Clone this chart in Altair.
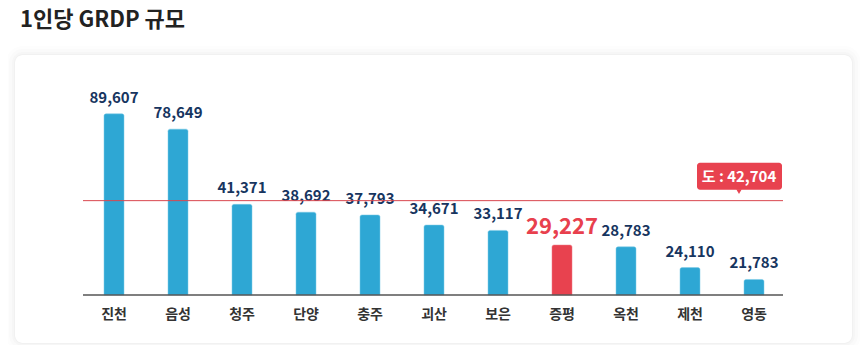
import altair as alt
import pandas as pd

# ---- data ----
regions = ["진천", "음성", "청주", "단양", "충주", "괴산", "보은", "증평", "옥천", "제천", "영동"]
values = [89607, 78649, 41371, 38692, 37793, 34671, 33117, 29227, 28783, 24110, 21783]
highlight = "증평"
province_avg = 42704
avg_label = "도 : 42,704"
title_text = "1인당 GRDP 규모"

FONT = "Noto Sans CJK KR"
D_MIN, D_MAX = 19080, 100000
W, H = 704, 194

df = pd.DataFrame({"region": regions, "value": values})
df["label"] = df["value"].map(lambda v: f"{v:,}")
df["hl"] = df["region"] == highlight

one = pd.DataFrame({"a": [0]})

x_enc = alt.X("region:N", sort=regions, title=None,
              axis=alt.Axis(labelAngle=0, labelFontSize=14, labelFontWeight="bold",
                            labelColor="#333333", labelFont=FONT, labelPadding=12,
                            ticks=False, domain=False, zindex=2))
y_scale = alt.Scale(type="log", domain=[D_MIN, D_MAX], nice=False)

# card with soft shadow (decoration)
card_layers = []
for grow, col in [(9, "#fdfdfd"), (6, "#fafafa"), (3, "#f6f6f6"), (1, "#f1f1f1")]:
    card_layers.append(
        alt.Chart(one).mark_rect(fill=col, cornerRadius=8 + grow).encode(
            x=alt.value(-67 - grow), x2=alt.value(770 + grow),
            y=alt.value(-46 - grow), y2=alt.value(242 + grow))
    )
card = alt.Chart(one).mark_rect(fill="white", cornerRadius=8).encode(
    x=alt.value(-67), x2=alt.value(770), y=alt.value(-46), y2=alt.value(242))

title = alt.Chart(one).mark_text(text=title_text, font=FONT, fontSize=22, fontWeight="bold",
                                 color="#222222", align="left", baseline="middle").encode(
    x=alt.value(-62), y=alt.value(-81))

bars = alt.Chart(df).mark_bar(size=20, cornerRadiusTopLeft=2, cornerRadiusTopRight=2,
                              strokeWidth=1, strokeOpacity=0.5).encode(
    x=x_enc,
    y=alt.Y("value:Q", scale=y_scale, axis=None, title=None),
    y2=alt.datum(D_MIN),
    color=alt.condition("datum.hl", alt.value("#e8424f"), alt.value("#2ea7d4")),
    stroke=alt.condition("datum.hl", alt.value("#f07a83"), alt.value("#7ccbe8")),
)

labels = alt.Chart(df).mark_text(font=FONT, fontWeight="bold", baseline="alphabetic", dy=-11).encode(
    x=alt.X("region:N", sort=regions),
    y=alt.Y("value:Q", scale=y_scale),
    text="label:N",
    color=alt.condition("datum.hl", alt.value("#e8404d"), alt.value("#17355f")),
    size=alt.condition("datum.hl", alt.value(22), alt.value(15)),
)

base_line = alt.Chart(one).mark_rule(color="#555555", strokeWidth=1.5).encode(
    x=alt.value(1), x2=alt.value(701), y=alt.datum(D_MIN))

avg_line = alt.Chart(one).mark_rule(color="#d9464f", strokeWidth=1).encode(
    x=alt.value(1), x2=alt.value(701), y=alt.datum(province_avg))

avg_box = alt.Chart(one).mark_rect(fill="#e8424f", cornerRadius=3, yOffset=-38, y2Offset=-11).encode(
    x=alt.value(615), x2=alt.value(700), y=alt.datum(province_avg), y2=alt.datum(province_avg))

avg_tip = alt.Chart(one).mark_point(shape="triangle-down", filled=True, fill="#e8424f",
                                    opacity=1, size=30, yOffset=-9, strokeWidth=0).encode(
    x=alt.value(657), y=alt.datum(province_avg))

avg_text = alt.Chart(one).mark_text(text=avg_label, font=FONT, fontSize=15, fontWeight="bold",
                                    color="white", baseline="middle", align="center", dy=-24).encode(
    x=alt.value(657), y=alt.datum(province_avg))

chart = alt.layer(
    *card_layers, card, title, bars, labels, base_line, avg_line, avg_box, avg_tip, avg_text
).resolve_scale(y="shared").properties(
    width=W, height=H,
    autosize=alt.AutoSizeParams(type="none"),
    padding={"left": 74, "top": 93, "right": 74, "bottom": 50},
    background="white",
).configure_view(stroke=None)

chart.save("out.html", embed_options={"renderer": "svg", "actions": False})
